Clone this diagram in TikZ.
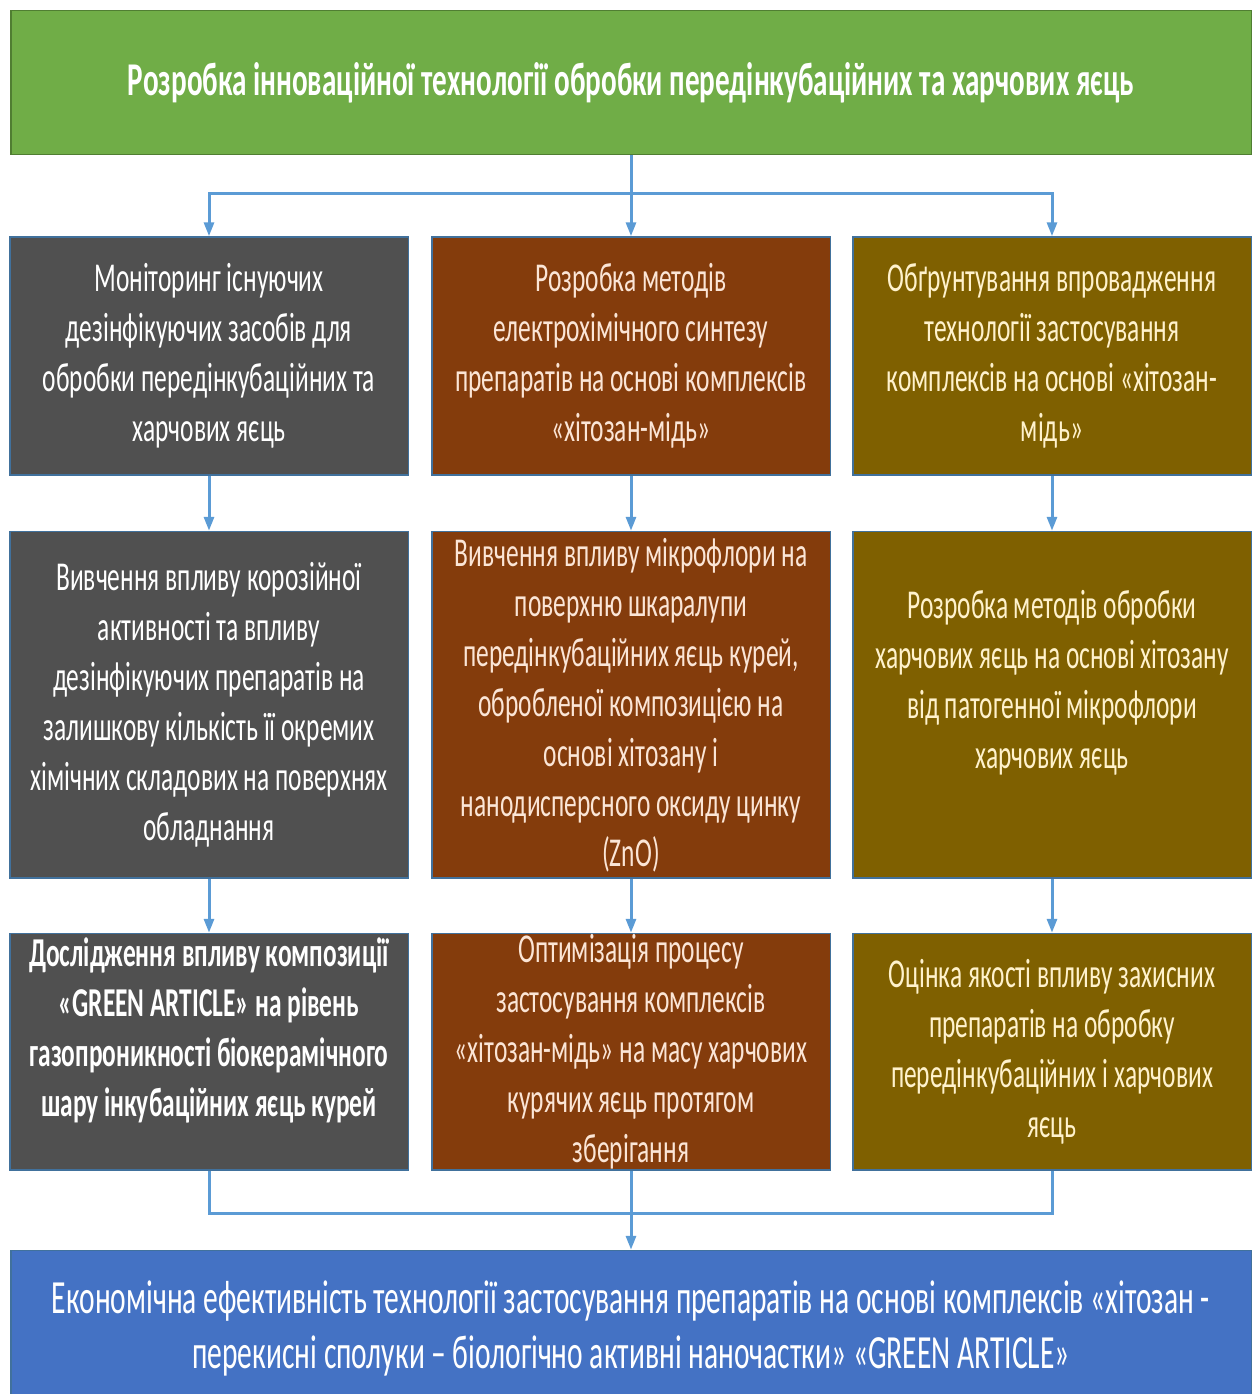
\documentclass[tikz,border=0pt]{standalone}
\usepackage{fontspec}
\setmainfont{Carlito}[FakeStretch=0.62]
\usetikzlibrary{positioning,calc,arrows.meta}

\definecolor{goalgreen}{HTML}{70AD47}
\definecolor{goaledge}{HTML}{507E32}
\definecolor{boxgray}{HTML}{505050}
\definecolor{boxbrown}{HTML}{843C0C}
\definecolor{boxolive}{HTML}{7F6000}
\definecolor{boxblue}{HTML}{4472C4}
\definecolor{boxedge}{HTML}{41719C}
\definecolor{linkblue}{HTML}{5B9BD5}
\definecolor{txtpeach}{HTML}{FBE5D6}
\definecolor{txtcream}{HTML}{FFF2CC}

\begin{document}
\begin{tikzpicture}[node distance=11pt, >={Triangle[width=5pt,length=7pt]},
  box/.style={draw=boxedge, line width=0.75pt, rectangle, inner sep=0pt,
    minimum width=199.25pt, align=center, font=\fontsize{20.5}{25}\selectfont},
  graybox/.style={box, fill=boxgray, text=white},
  brownbox/.style={box, fill=boxbrown, text=txtpeach},
  olivebox/.style={box, fill=boxolive, text=txtcream},
  link/.style={->, draw=linkblue, line width=1.5pt},
  line/.style={draw=linkblue, line width=1.5pt}]
  \useasboundingbox (0,0) rectangle (628.5pt,-697pt);

  \node (goal) [draw=goaledge, line width=0.75pt, fill=goalgreen, text=white, minimum width=620.25pt, minimum height=72pt,
    font=\fontsize{23.5}{28}\selectfont\bfseries] at (315.5pt,-41.25pt)
    {Розробка інноваційної технології обробки передінкубаційних та харчових яєць};

  % row 1
  \node (synth) [brownbox, minimum height=119pt, below=40.5pt of goal]
    {Розробка методів\\ електрохімічного синтезу\\ препаратів на основі комплексів\\ «хітозан-мідь»};
  \node (mon) [graybox, minimum height=119pt, left=of synth]
    {Моніторинг існуючих\\ дезінфікуючих засобів для\\ обробки передінкубаційних та\\ харчових яєць};
  \node (just) [olivebox, minimum height=119pt, right=10.5pt of synth]
    {Обґрунтування впровадження\\ технології застосування\\ комплексів на основі «хітозан-\\ мідь»};

  % row 2
  \node (corr) [graybox, minimum height=173.25pt, below=27.5pt of mon]
    {Вивчення впливу корозійної\\ активності та впливу\\ дезінфікуючих препаратів на\\ залишкову кількість її окремих\\ хімічних складових на поверхнях\\ обладнання};
  \node (micro) [brownbox, minimum height=173.25pt, below=27.5pt of synth]
    {Вивчення впливу мікрофлори на\\ поверхню шкаралупи\\ передінкубаційних яєць курей,\\ обробленої композицією на\\ основі хітозану і\\ нанодисперсного оксиду цинку\\ (ZnO)};
  \node (food) [olivebox, minimum height=173.25pt, below=27.5pt of just]
    {Розробка методів обробки\\ харчових яєць на основі хітозану\\ від патогенної мікрофлори\\ харчових яєць\\ \mbox{}};

  % row 3
  \node (gas) [graybox, minimum height=118.25pt, below=27pt of corr, font=\fontsize{20.5}{25}\selectfont\bfseries]
    {Дослідження впливу композиції\\ «GREEN ARTICLE» на рівень\\ газопроникності біокерамічного\\ шару інкубаційних яєць курей\\ \mbox{}};
  \node (opt) [brownbox, minimum height=118.25pt, below=27pt of micro]
    {Оптимізація процесу\\ застосування комплексів\\ «хітозан-мідь» на масу харчових\\ курячих яєць протягом\\ зберігання};
  \node (qual) [olivebox, minimum height=118.25pt, below=27pt of food]
    {Оцінка якості впливу захисних\\ препаратів на обробку\\ передінкубаційних і харчових\\ яєць};

  \node (econ) [draw=boxedge, line width=0.75pt, fill=boxblue, text=white, minimum width=620.25pt, minimum height=78pt,
    align=center, font=\fontsize{23.8}{27.5}\selectfont, below=39.5pt of opt]
    {Економічна ефективність технології застосування препаратів на основі комплексів «хітозан -\\ перекисні сполуки – біологічно активні наночастки» «GREEN ARTICLE»};

  % connectors
  \coordinate (split) at ($(goal.south)!0.47!(synth.north)$);
  \draw[line] (goal.south) -- (split);
  \draw[link] (split) -| (mon.north);
  \draw[link] (split) -- (synth.north);
  \draw[link] (split) -| (just.north);

  \draw[link] (mon) -- (corr);
  \draw[link] (synth) -- (micro);
  \draw[link] (just) -- (food);
  \draw[link] (corr) -- (gas);
  \draw[link] (micro) -- (opt);
  \draw[link] (food) -- (qual);

  \coordinate (join) at ($(opt.south)!0.54!(econ.north)$);
  \draw[line] (gas.south) |- (join) -| (qual.south);
  \draw[link] (opt.south) -- (econ.north);
\end{tikzpicture}
\end{document}
